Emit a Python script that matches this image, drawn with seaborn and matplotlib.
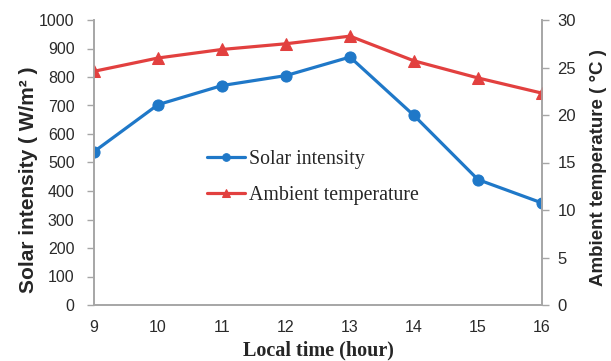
import matplotlib
matplotlib.use("Agg")
import matplotlib.pyplot as plt
import seaborn as sns
import pandas as pd

hours = [9, 10, 11, 12, 13, 14, 15, 16]
solar_intensity = [538, 703, 770, 805, 870, 665, 440, 358]
ambient_temperature = [24.6, 26.0, 26.9, 27.5, 28.3, 25.7, 23.9, 22.3]
left_ticks = [0, 100, 200, 300, 400, 500, 600, 700, 800, 900, 1000]
right_ticks = [0, 5, 10, 15, 20, 25, 30]

sns.set_theme(style="white")
plt.rcParams['font.family'] = ['Liberation Sans', 'DejaVu Sans']

df = pd.DataFrame({"hour": hours, "solar": solar_intensity, "temp": ambient_temperature})

blue = "#1f78c8"
red = "#e2403f"
grey = "#a6a6a6"
serif = ['Liberation Serif', 'DejaVu Serif']

W, H = 611, 361
fig = plt.figure(figsize=(W / 100, H / 100), dpi=100)
L, R, T, B = 94, 542, 20, 305
ax = fig.add_axes([L / W, 1 - B / H, (R - L) / W, (B - T) / H])
ax2 = ax.twinx()

sns.lineplot(data=df, x="hour", y="solar", ax=ax, color=blue, marker="o",
             markersize=8, markeredgecolor=blue, linewidth=2.3, label="Solar intensity", legend=False)
sns.lineplot(data=df, x="hour", y="temp", ax=ax2, color=red, marker="^",
             markersize=9, markeredgecolor=red, linewidth=2.3, label="Ambient temperature", legend=False)

ax.set_xlim(9, 16)
ax.set_ylim(0, 1000)
ax2.set_ylim(0, 30)
ax.set_xticks(hours)
ax.set_yticks(left_ticks)
ax2.set_yticks(right_ticks)

for a in (ax, ax2):
    for s in a.spines.values():
        s.set_color(grey)
        s.set_linewidth(1.2)
    a.spines['top'].set_visible(False)
    a.tick_params(axis='both', which='both', direction='out', length=5, width=1, color=grey,
                  labelsize=11.5, labelcolor="#2a2a2a")
    a.grid(False)

ax.tick_params(axis='x', pad=6)
ax.tick_params(axis='y', pad=9)
ax2.tick_params(axis='y', pad=6, labelsize=12)

ax.set_xlabel("Local time (hour)", fontsize=14.5, fontweight='bold', family=serif)
ax.xaxis.set_label_coords(0.5, (B - 340) / (B - T))
ax.set_ylabel("Solar intensity ( W/m² )", fontsize=15, fontweight='bold')
ax.yaxis.set_label_coords((38 - L) / (R - L), (B - 180) / (B - T))
ax2.set_ylabel("Ambient temperature ( °C )", fontsize=13.5, fontweight='bold')
ax2.yaxis.set_label_coords((590 - L) / (R - L), (B - 168) / (B - T))

h1, l1 = ax.get_legend_handles_labels()
h2, l2 = ax2.get_legend_handles_labels()
leg = fig.legend(h1 + h2, l1 + l2, loc='upper left', bbox_to_anchor=(207 / W, 1 - 150 / H),
                 bbox_transform=fig.transFigure, frameon=False, borderpad=0, borderaxespad=0,
                 handlelength=1.9, handletextpad=0.2, labelspacing=0.85,
                 prop={'family': serif, 'size': 14.3})
for hdl in leg.legend_handles:
    hdl.set_markersize(5.5)

fig.savefig("out.png", dpi=100)
